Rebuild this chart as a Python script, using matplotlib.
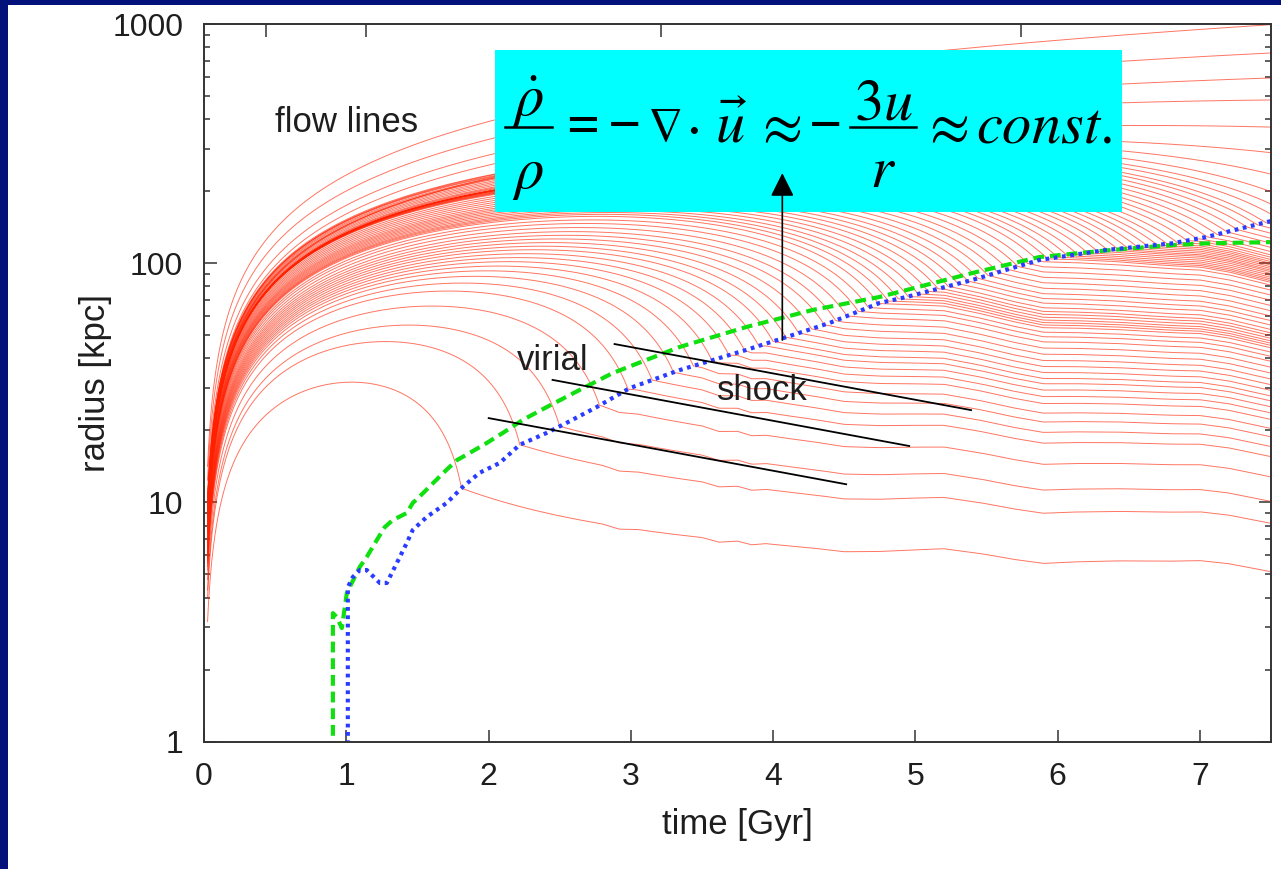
import numpy as np
import matplotlib
matplotlib.use("Agg")
import matplotlib.pyplot as plt
from matplotlib.patches import Rectangle
from matplotlib.lines import Line2D
from matplotlib.ticker import LogLocator, NullFormatter

# ---------------- values ----------------
# virial radius (green dashed curve)
virial_time = [0.906, 0.906, 0.934, 0.969, 1.004, 1.095, 1.144, 1.215, 1.271, 1.327,
               1.425, 1.467, 1.538, 1.608, 1.706, 1.777, 1.868, 1.987, 2.100, 2.240,
               2.408, 2.640, 2.872, 3.342, 3.813, 4.277, 4.747, 4.937, 5.399, 5.869,
               6.340, 6.803, 7.042, 7.500]
virial_radius = [0.9, 3.44, 3.31, 2.98, 4.18, 5.37, 5.91, 6.96, 7.88, 8.43,
                 9.02, 9.93, 10.9, 12.0, 13.7, 15.0, 16.1, 17.7, 19.5, 22.1,
                 25.0, 29.5, 34.7, 44.6, 54.1, 63.7, 72.2, 77.2, 90.9, 106.0,
                 113.0, 119.0, 121.0, 122.5]

# shock radius (blue dotted curve)
shock_time = [1.011, 1.011, 1.046, 1.095, 1.144, 1.236, 1.285, 1.355, 1.425, 1.467,
              1.566, 1.706, 1.819, 1.938, 2.078, 2.219, 2.408, 2.549, 2.759, 2.991,
              3.342, 3.813, 4.094, 4.396, 4.747, 4.937, 5.399, 5.869, 6.340, 6.803,
              7.042, 7.500]
shock_radius = [0.9, 4.42, 4.87, 5.21, 5.21, 4.60, 4.60, 5.57, 6.76, 7.66,
                8.69, 9.94, 11.6, 13.3, 14.6, 17.4, 19.5, 21.5, 25.0, 30.0,
                35.7, 43.4, 49.1, 56.2, 68.1, 72.2, 85.0, 103.0, 113.5, 121.0,
                128.5, 150.0]

# flow lines: times at which each shell meets the shock
flow_shock_times = [1.81, 2.22, 2.50, 2.78, 2.98, 3.15, 3.30, 3.44, 3.57, 3.69,
                    3.80, 3.90, 4.00, 4.09, 4.18, 4.27, 4.36, 4.44, 4.52, 4.60,
                    4.67, 4.74, 4.81, 4.88, 4.95, 5.02, 5.09, 5.16, 5.23, 5.30,
                    5.37, 5.44, 5.51, 5.58, 5.65, 5.72, 5.79, 5.86, 5.93, 6.00,
                    6.07, 6.14, 6.21, 6.28, 6.35, 6.42, 6.49, 6.56, 6.63, 6.70,
                    6.77, 6.84, 6.91, 6.98, 7.05, 7.12, 7.19, 7.26, 7.33, 7.40,
                    7.46]
# outer (not yet shocked) shells: radius at the right edge and turnaround time
outer_edge_radius = [164, 180, 202, 238, 291, 371, 481, 594, 755, 991]
outer_turn_time = [4.50, 4.57, 4.67, 4.90, 5.45, 6.6, 8.0, 10.5, 15.0, 35.0]
# common wiggle of the post-shock flow lines (dex)
wobble_time = [0.0, 2.8, 2.92, 3.05, 3.5, 3.62, 3.75, 3.85, 3.95, 4.3, 4.5, 4.75,
               5.0, 5.2, 5.45, 5.7, 5.9, 6.1, 6.4, 6.8, 7.0, 7.2, 7.5]
wobble_dex = [0.0, 0.0, -0.01, 0.0, 0.0, -0.012, 0.0, -0.01, 0.0, -0.004, -0.01, 0.0,
              0.015, 0.025, 0.012, -0.008, -0.02, -0.01, 0.0, 0.005, 0.01, 0.0, -0.03]

x_tick_values = [0, 1, 2, 3, 4, 5, 6, 7]
y_tick_values = [1, 10, 100, 1000]
y_tick_labels = ["1", "10", "100", "1000"]
redshift_tick_times = [0.435, 1.138, 3.21, 5.74]

# ---------------- helpers ----------------
BETA = 1.15
T_START = 0.025
T_END = 7.5


def theta_of(target):
    target = np.asarray(target, dtype=float)
    lo = np.zeros_like(target)
    hi = np.full_like(target, 2 * np.pi)
    for _ in range(60):
        mid = 0.5 * (lo + hi)
        f = mid - np.sin(mid) - target
        lo = np.where(f < 0, mid, lo)
        hi = np.where(f >= 0, mid, hi)
    return 0.5 * (lo + hi)


def infall(r_ta, tau_ta, theta_end):
    th0 = float(theta_of(np.pi * T_START ** BETA / tau_ta))
    th = np.linspace(th0, theta_end, 1500)
    t = (tau_ta / np.pi * (th - np.sin(th))) ** (1.0 / BETA)
    r = 0.5 * r_ta * (1 - np.cos(th))
    return t, r


# ---------------- figure ----------------
NAVY = "#03117a"
fig = plt.figure(figsize=(12.81, 8.69), dpi=100, facecolor=NAVY)
fig.patches.append(Rectangle((8 / 1281, 0), 1 - 8 / 1281, 1 - 5 / 869,
                             transform=fig.transFigure, facecolor="white",
                             edgecolor="none", zorder=-10))
AX_L, AX_R, AX_T, AX_B = 204, 1271, 24, 741.5
ax = fig.add_axes([AX_L / 1281, 1 - AX_B / 869, (AX_R - AX_L) / 1281, (AX_B - AX_T) / 869])
ax.set_zorder(1)
ax.set_facecolor("white")


def px(x, y):
    """pixel position in the picture -> axes fraction"""
    return (x - AX_L) / (AX_R - AX_L), (AX_B - y) / (AX_B - AX_T)


RED = "#ff2000"
LW = 0.7
ALPHA = 0.62

log_shock_r = np.log10(shock_radius)
for ts in flow_shock_times:
    rs = 10 ** np.interp(ts, shock_time, log_shock_r)
    q = 0.36 + 0.14 * (ts - 1.8) / 5.7
    ths = 2 * np.pi - np.arccos(1 - 2 * q)
    tau_ta = ts ** BETA * np.pi / (ths - np.sin(ths))
    r_ta = rs / q
    t1, r1 = infall(r_ta, tau_ta, ths)
    t2 = np.linspace(ts, T_END, 400)
    w = np.interp(t2, wobble_time, wobble_dex) - np.interp(ts, wobble_time, wobble_dex)
    r2 = rs * (0.42 + 0.58 * (ts / t2) ** 1.6) * 10 ** w
    ax.plot(np.r_[t1, t2], np.r_[r1, r2], color=RED, lw=LW, alpha=ALPHA, zorder=2)

for r_edge, t_ta in zip(outer_edge_radius, outer_turn_time):
    tau_ta = t_ta ** BETA
    th_e = float(theta_of(np.pi * 7.47 ** BETA / tau_ta))
    r_ta = r_edge / (0.5 * (1 - np.cos(th_e)))
    th_end = float(theta_of(np.pi * T_END ** BETA / tau_ta))
    t, r = infall(r_ta, tau_ta, th_end)
    ax.plot(t, r, color=RED, lw=LW, alpha=ALPHA, zorder=2)

# virial and shock radius
ax.plot(virial_time, virial_radius, color="#10e010", lw=3.0, zorder=4,
        dashes=(2.6, 1.4), solid_capstyle="butt")
ax.plot(shock_time, shock_radius, color="#2a3cff", lw=3.0, zorder=4,
        dashes=(0.9, 1.1))

# guide lines
for (xa, ya), (xb, yb) in [((2.886, 45.9), (5.392, 24.3)),
                           ((2.450, 32.5), (4.957, 17.2)),
                           ((2.001, 22.5), (4.514, 11.9))]:
    ax.plot([xa, xb], [ya, yb], color="black", lw=1.3, zorder=5)

txt_kw = dict(fontsize=25, color="#1e1e1e", family="Liberation Sans", zorder=6)
ax.text(0.4986, 353, "flow lines", va="baseline", ha="left", **txt_kw)
ax.text(2.198, 35.7, "virial", va="baseline", ha="left", **txt_kw)
ax.text(3.609, 26.8, "shock", va="baseline", ha="left", **txt_kw)

# equation box
x0, y0 = px(495, 212)
x1, y1 = px(1122, 50)
ax.add_patch(Rectangle((x0, y0), x1 - x0, y1 - y0, transform=ax.transAxes,
                       facecolor="#00ffff", edgecolor="none", zorder=7))
plt.rcParams["mathtext.fontset"] = "stix"
EQ = 42
BASE = 143
pieces = [
    (r"$\dot{\rho}$", 528, 116, "center", "math", EQ),
    (r"$\rho$", 528, 188, "center", "math", EQ),
    ("=", 583, BASE, "center", "bold", EQ),
    ("\u2212", 625, BASE, "center", "bold", EQ),
    (r"$\nabla$", 664, BASE - 2, "center", "math", 35),
    (r"$\cdot$", 692, BASE, "center", "math", EQ),
    (r"$\vec{u}$", 731, BASE, "center", "math", EQ),
    (r"$\approx$", 778, BASE, "center", "math", EQ),
    ("\u2212", 826, BASE, "center", "bold", EQ),
    (r"$3u$", 883, 120, "center", "math", EQ),
    (r"$r$", 883, 187, "center", "math", EQ),
    (r"$\approx$", 945, BASE, "center", "math", EQ),
    (r"$const.$", 976, BASE, "left", "math", EQ),
]
for s, xx, yy, ha, kind, fs in pieces:
    ax_x, ax_y = px(xx, yy)
    if kind == "bold":
        ax.text(ax_x, ax_y, s, transform=ax.transAxes, ha=ha, va="baseline",
                fontsize=fs, family="Liberation Serif", fontweight="bold",
                color="black", zorder=8)
    else:
        ax.text(ax_x, ax_y, s, transform=ax.transAxes, ha=ha, va="baseline",
                fontsize=fs, color="black", zorder=8)
for xa, xb in [(505, 552), (850, 916)]:
    pa = px(xa, 127)
    pb = px(xb, 127)
    ax.add_line(Line2D([pa[0], pb[0]], [pa[1], pb[1]], transform=ax.transAxes,
                       color="black", lw=1.8, zorder=8))

# arrow
ax.annotate("", xy=(4.065, 238), xytext=(4.065, 47.7),
            arrowprops=dict(arrowstyle="-|>", mutation_scale=36, lw=1.2,
                            color="black", shrinkA=0, shrinkB=0),
            zorder=9, annotation_clip=False)

# axes
ax.set_xlim(0, 7.5)
ax.set_yscale("log")
ax.set_ylim(1, 1000)
ax.set_xticks(x_tick_values)
ax.set_xticklabels([str(v) for v in x_tick_values])
ax.set_yticks(y_tick_values)
ax.set_yticklabels(y_tick_labels)
ax.yaxis.set_minor_locator(LogLocator(base=10, subs=np.arange(2, 10)))
ax.yaxis.set_minor_formatter(NullFormatter())
ax.tick_params(which="both", direction="in", right=True, top=False,
               color="#333333", width=1.1, labelsize=23, labelcolor="#1e1e1e")
ax.tick_params(which="major", length=9, pad=15)
ax.tick_params(which="minor", length=4.5)
for lab in ax.get_xticklabels() + ax.get_yticklabels():
    lab.set_family("Liberation Sans")
for sp in ax.spines.values():
    sp.set_color("#333333")
    sp.set_linewidth(1.4)
    sp.set_zorder(10)

sec = ax.secondary_xaxis("top")
sec.set_xticks(redshift_tick_times)
sec.set_xticklabels([])
sec.tick_params(direction="in", length=9, width=1.1, color="#333333")
sec.spines["top"].set_visible(False)

ax.set_xlabel("time [Gyr]", fontsize=25, family="Liberation Sans", color="#1e1e1e")
ax.xaxis.set_label_coords(0.5, -0.115)
ax.xaxis.label.set_verticalalignment("center")
ax.set_ylabel("radius [kpc]", fontsize=25, family="Liberation Sans", color="#1e1e1e")
ax.yaxis.set_label_coords(-0.102, 0.5)
ax.yaxis.label.set_verticalalignment("center")

fig.savefig("out.png", dpi=100, facecolor=fig.get_facecolor())
